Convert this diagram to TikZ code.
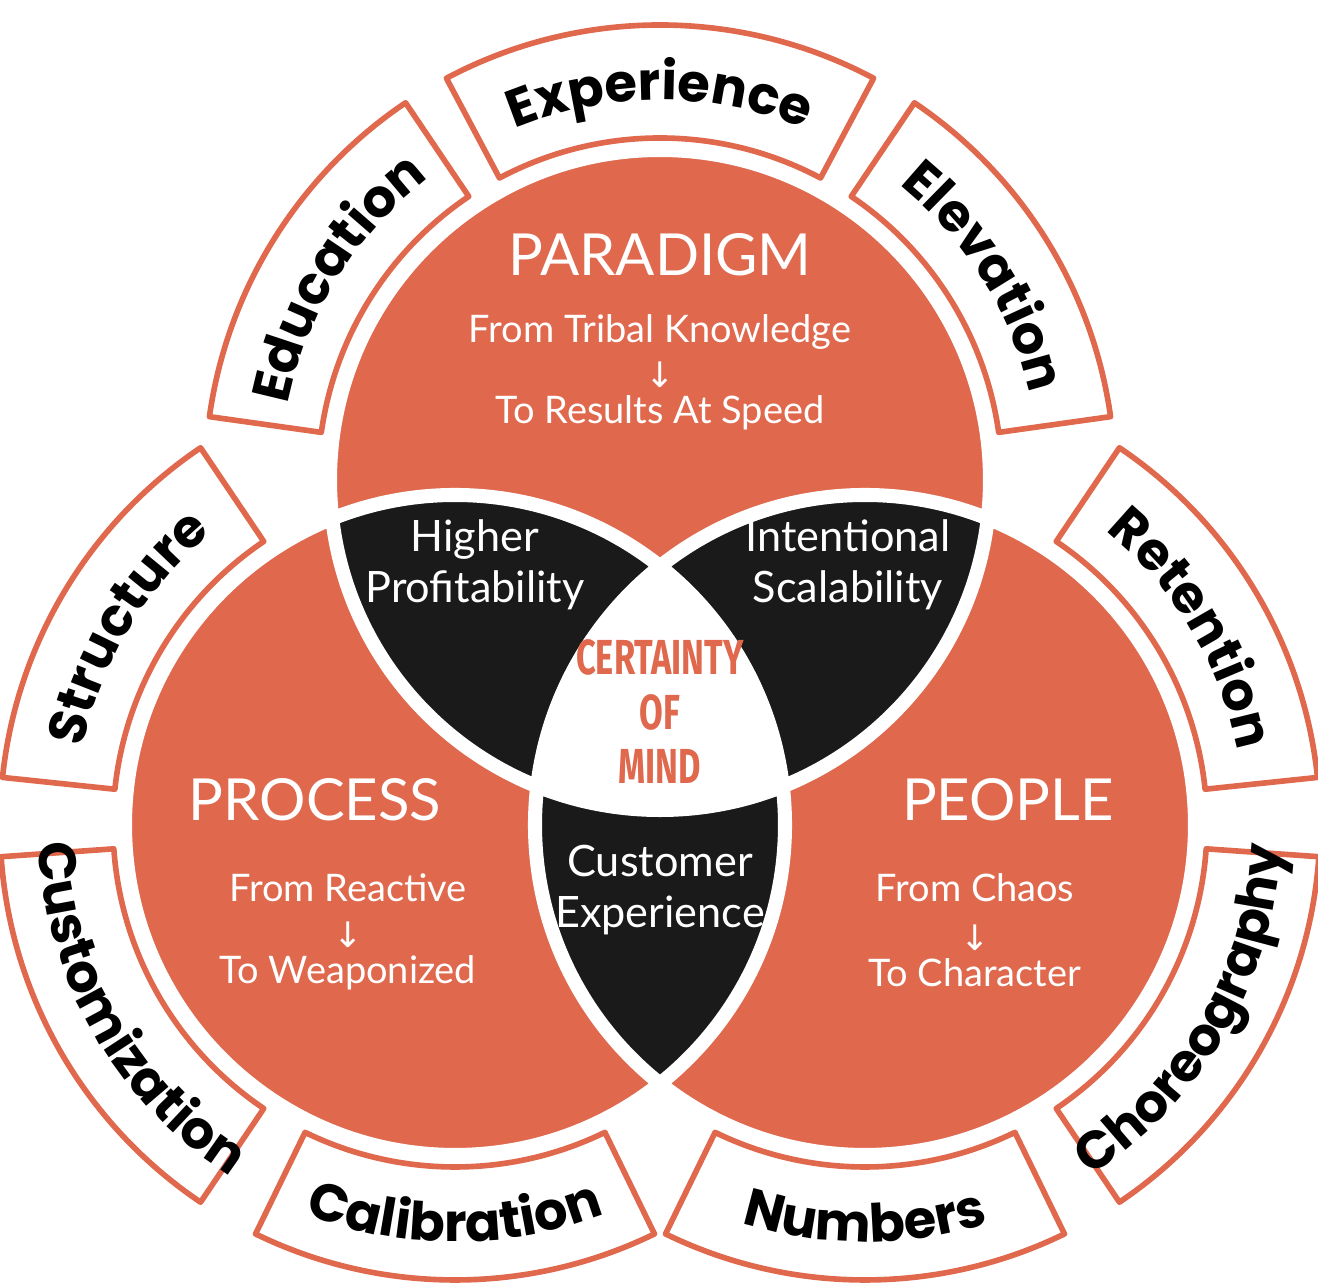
\documentclass[tikz,border=0pt]{standalone}
\usepackage{fontspec}
\usetikzlibrary{decorations.text}
\newfontfamily\bodyfont{Lato}
\newfontfamily\ringfont{Poppins}
\newfontfamily\condfont{Fira Sans}
\newfontfamily\arrowfont{DejaVu Sans}
\definecolor{rust}{HTML}{DF684D}
\definecolor{ink}{HTML}{1A1A1A}
\def\rin{3.42}
\def\rout{4.55}
% annular sector of the outer ring: centre, from angle, to angle
\newcommand\ringsector[3]{%
  \draw[ring,shift={(#1)}] (#2:\rin) arc[start angle=#2,end angle=#3,radius=\rin]
    -- (#3:\rout) arc[start angle=#3,end angle=#2,radius=\rout] -- cycle;}
% curved label: centre, from angle, to angle, radius, text
\newcommand\ringlabel[5]{%
  \path[shift={(#1)},postaction={decorate,decoration={text along path,text align=center,
    text={|\ringfont\bfseries\fontsize{15}{18}\selectfont|#5}}}]
    (#2:#4) arc[start angle=#2,end angle=#3,radius=#4];}
\tikzset{
  ring/.style={draw=rust,fill=white,line width=1.6pt,line join=round},
  big/.style={text=white,font=\bodyfont\fontsize{16.5}{18}\selectfont},
  sub/.style={text=white,font=\bodyfont\fontsize{10.8}{12}\selectfont},
  arrow/.style={text=white,font=\arrowfont\fontsize{10}{11}\selectfont},
  lens/.style={text=white,align=center,font=\bodyfont\fontsize{12.3}{14.5}\selectfont},
}
\begin{document}
\begin{tikzpicture}
  \useasboundingbox (0,0) rectangle (13.18,12.85);
  \coordinate (top) at (6.6,8.05);
  \coordinate (left) at (4.55,4.6);
  \coordinate (right) at (8.65,4.6);

  % outer ring sectors
  \ringsector{top}{8}{56}
  \ringsector{top}{62}{118}
  \ringsector{top}{124}{172}
  \ringsector{left}{124}{174}
  \ringsector{left}{184}{236}
  \ringsector{left}{244}{296}
  \ringsector{right}{6}{56}
  \ringsector{right}{-56}{-4}
  \ringsector{right}{-116}{-64}

  % ring labels
  \ringlabel{top}{172}{124}{3.8}{Education}
  \ringlabel{top}{118}{62}{3.8}{Experience}
  \ringlabel{top}{56}{8}{3.8}{Elevation}
  \ringlabel{left}{174}{124}{3.8}{Structure}
  \ringlabel{left}{184}{236}{4.17}{Customization}
  \ringlabel{left}{244}{296}{4.17}{Calibration}
  \ringlabel{right}{56}{6}{3.8}{Retention}
  \ringlabel{right}{-56}{-4}{4.17}{Choreography}
  \ringlabel{right}{-116}{-64}{4.17}{Numbers}

  % circles and overlaps
  \fill[rust] (top) circle (3.3) (left) circle (3.3) (right) circle (3.3);
  \begin{scope}
    \clip (top) circle (3.3);
    \fill[ink] (left) circle (3.3) (right) circle (3.3);
  \end{scope}
  \begin{scope}
    \clip (left) circle (3.3);
    \fill[ink] (right) circle (3.3);
  \end{scope}
  \begin{scope}
    \clip (top) circle (3.3);
    \clip (left) circle (3.3);
    \fill[white] (right) circle (3.3);
  \end{scope}
  \draw[white,line width=4pt] (top) circle (3.3) (left) circle (3.3) (right) circle (3.3);

  % circle texts
  \node[big] (paradigm) at (6.6,10.3) {PARADIGM};
  \node[sub] (parfrom) at (6.6,9.53) {From Tribal Knowledge};
  \node[arrow] (pararr) at (6.6,9.1) {↓};
  \node[sub] (parto) at (6.6,8.72) {To Results At Speed};
  \node[big] (process) at (3.15,4.85) {PROCESS};
  \node[sub] (profrom) at (3.48,3.97) {From Reactive};
  \node[arrow] (proarr) at (3.48,3.5) {↓};
  \node[sub] (proto) at (3.48,3.12) {To Weaponized};
  \node[big] (people) at (10.08,4.85) {PEOPLE};
  \node[sub] (peofrom) at (9.75,3.97) {From Chaos};
  \node[arrow] (peoarr) at (9.75,3.47) {↓};
  \node[sub] (peoto) at (9.75,3.12) {To Character};

  % overlap texts
  \node[lens] (profit) at (4.75,7.2) {Higher\\Profitability};
  \node[lens] (scale) at (8.48,7.2) {Intentional\\Scalability};
  \node[lens] (custexp) at (6.6,3.95) {Customer\\Experience};
  \node[text=rust,align=center,font=\condfont\bfseries\fontsize{14}{15.5}\selectfont] (certainty) at (6.6,5.73)
    {\scalebox{0.7}[1]{CERTAINTY}\\\scalebox{0.7}[1]{OF}\\\scalebox{0.7}[1]{MIND}};
\end{tikzpicture}
\end{document}
